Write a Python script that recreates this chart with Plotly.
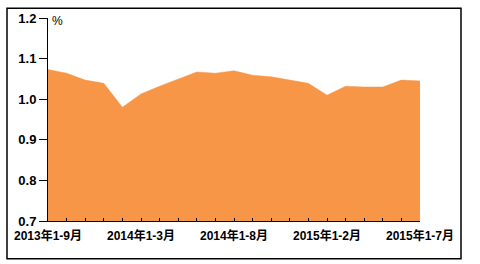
import plotly.graph_objects as go

categories = [
    "2013年1-9月", "2013年1-10月", "2013年1-11月", "2013年1-12月",
    "2014年1-2月", "2014年1-3月", "2014年1-4月", "2014年1-5月", "2014年1-6月",
    "2014年1-7月", "2014年1-8月", "2014年1-9月", "2014年1-10月", "2014年1-11月",
    "2014年1-12月", "2015年1-2月", "2015年1-3月", "2015年1-4月", "2015年1-5月",
    "2015年1-6月", "2015年1-7月",
]
values = [
    1.073, 1.064, 1.047, 1.039, 0.980, 1.013, 1.032, 1.050, 1.067, 1.064,
    1.070, 1.059, 1.055, 1.047, 1.039, 1.010, 1.032, 1.030, 1.030, 1.047, 1.045,
]
shown_labels = ["2013年1-9月", "2014年1-3月", "2014年1-8月", "2015年1-2月", "2015年1-7月"]
y_ticks = [0.7, 0.8, 0.9, 1.0, 1.1, 1.2]

FONT = "Liberation Sans, Arial, Noto Sans CJK SC, sans-serif"
ORANGE = "#F79646"

fig = go.Figure()
fig.add_trace(go.Scatter(
    x=categories, y=values, mode="lines", fill="tozeroy",
    fillcolor=ORANGE, line=dict(color=ORANGE, width=0.5),
    hoverinfo="skip", showlegend=False,
))

fig.update_layout(
    width=480, height=264,
    margin=dict(l=48, r=60, t=11, b=43),
    paper_bgcolor="white", plot_bgcolor="white",
    font=dict(family=FONT, color="black"),
    xaxis=dict(
        type="category", range=[0, len(categories) - 1],
        tickmode="array", tickvals=categories,
        ticktext=[c if c in shown_labels else "" for c in categories],
        ticks="inside", ticklen=3, tickcolor="black", tickwidth=1,
        showline=True, linecolor="black", linewidth=1,
        showgrid=False, zeroline=False, tickangle=0,
        tickfont=dict(size=12, weight="bold", family=FONT, color="black"),
        ticklabelstandoff=4,
    ),
    yaxis=dict(
        range=[0.7, 1.2], tickvals=y_ticks, tickformat=".1f",
        ticks="outside", ticklen=8, tickcolor="black", tickwidth=1,
        showline=True, linecolor="black", linewidth=1,
        showgrid=False, zeroline=False,
        tickfont=dict(size=13, weight="bold", family=FONT, color="black"),
    ),
    shapes=[dict(
        type="rect", xref="paper", yref="paper",
        x0=-0.1102, x1=1.1102, y0=-0.1857, y1=1.0476,
        line=dict(color="black", width=1.5), fillcolor="rgba(0,0,0,0)",
        layer="above",
    )],
    annotations=[dict(
        text="%", xref="paper", yref="paper", x=0.006, y=1.03,
        xanchor="left", yanchor="top", showarrow=False,
        font=dict(size=12, family=FONT, color="black"),
    )],
)

fig.write_html("out.html")
